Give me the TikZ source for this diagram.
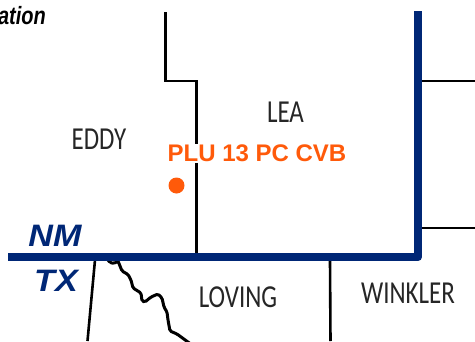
\documentclass[tikz,border=0pt]{standalone}
\usepackage{fontspec}
\setmainfont{Liberation Sans}
\newfontfamily\countyfont{Carlito}
\definecolor{navy}{HTML}{002776}
\definecolor{plu}{HTML}{FF5A0A}
\tikzset{
  county/.style={font=\countyfont\fontsize{32}{32}\selectfont, text=black!85, inner sep=0pt, anchor=center, xscale=.78},
  state/.style={font=\bfseries\itshape\fontsize{31}{31}\selectfont, text=navy, inner sep=0pt, anchor=center, xscale=1.1},
  border/.style={draw=black, line width=2.6pt, line join=miter},
  stateline/.style={draw=navy, line width=8pt, line join=round},
}
\begin{document}
\begin{tikzpicture}[x=1pt,y=-1pt]
\useasboundingbox (0,0) rectangle (475,341);
\clip (0,0) rectangle (475,341);
\coordinate (a1) at (165.5,12);
\coordinate (a2) at (165.5,81);
\coordinate (a3) at (196.5,81);
\coordinate (a4) at (196.5,254);
\draw[border] (a1) -- (a2) -- (a3) -- (a4);
\coordinate (b1) at (422,81); \coordinate (b2) at (475,81);
\draw[border] (b1) -- (b2);
\coordinate (c1) at (422,228); \coordinate (c2) at (475,228);
\draw[border] (c1) -- (c2);
\coordinate (d1) at (330,260); \coordinate (d2) at (330.5,341);
\draw[border] (d1) -- (d2);
\coordinate (e1) at (95,260); \coordinate (e2) at (87.5,341);
\draw[border] (e1) -- (e2);
\coordinate (r0) at (108,260);
\coordinate (r1) at (192,345);
\draw[border, line width=3pt, rounded corners=1.5pt] (r0) -- (110,262.5) -- (114,263.5) -- (118,261) -- (120,266) -- (122,271) -- (128,274.5) -- (131,280) -- (133,288) -- (141,293) -- (142,301) -- (145,302) -- (151,297) -- (158,294) -- (162,298) -- (164,307) -- (167,312) -- (168,320) -- (170,331) -- (177,334) -- (r1);
\coordinate (n1) at (8,257);
\coordinate (n2) at (418,257);
\coordinate (n3) at (418,11);
\draw[stateline] (n1) -- (n2) -- (n3);
\node[fill=white, inner sep=1pt, font=\bfseries\fontsize{24}{24}\selectfont, text=plu] (plu) at (257,153.5) {PLU 13 PC CVB};
\node[circle, fill=plu, minimum size=16pt, inner sep=0pt] (well) at (176.5,185.5) {};
\node[county] (eddy) at (99,139) {EDDY};
\node[county] (lea) at (285.5,112.5) {LEA};
\node[county] (loving) at (238,297.5) {LOVING};
\node[county] (winkler) at (408,293) {WINKLER};
\node[state] (nm) at (55,236) {NM};
\node[state] (tx) at (56,281) {TX};
\node[font=\bfseries\itshape\fontsize{25}{25}\selectfont, inner sep=0pt, anchor=base east, xscale=.8] (title) at (46,24) {ation};
\end{tikzpicture}
\end{document}
